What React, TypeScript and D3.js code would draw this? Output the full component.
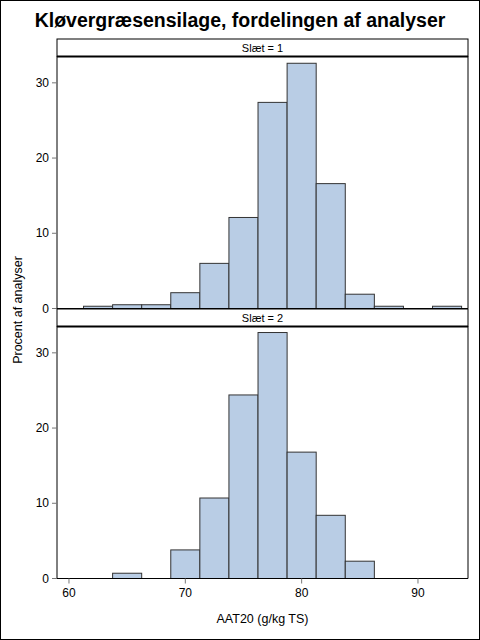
import React from 'react';
import * as d3 from 'd3';

// Histogram bins (midpoints, width 2.5) and percent per panel
const binMids = [62.5, 65, 67.5, 70, 72.5, 75, 77.5, 80, 82.5, 85, 87.5, 90, 92.5];
const binWidth = 2.5;
const slaet1 = [0.3, 0.5, 0.5, 2.1, 6.0, 12.1, 27.4, 32.6, 16.6, 1.9, 0.3, 0, 0.3];
const slaet2 = [0, 0.7, 0, 3.8, 10.7, 24.4, 32.7, 16.8, 8.4, 2.3, 0, 0, 0];
const panelLabels = ['Slæt = 1', 'Slæt = 2'];
const xTicks = [60, 70, 80, 90];
const yTicks = [0, 10, 20, 30];

const W = 480;
const H = 640;
const font = 'Arial, "Liberation Sans", sans-serif';

function Panel({ values, label, top, showX }: { values: number[]; label: string; top: number; showX: boolean }) {
  const left = 57;
  const right = 468;
  const headerH = 17.5;
  const plotTop = top + headerH;
  const plotBottom = plotTop + 252;

  const x = d3.scaleLinear().domain([58.97, 94.3]).range([left, right]);
  const y = d3.scaleLinear().domain([0, 33.5]).range([plotBottom, plotTop]);

  return (
    <g>
      {/* header strip */}
      <rect x={left} y={top} width={right - left} height={headerH} fill="#fff" stroke="#000" strokeWidth={1} />
      <line x1={left} x2={right} y1={plotTop} y2={plotTop} stroke="#000" strokeWidth={2} />
      <text x={(left + right) / 2} y={top + 12.5} textAnchor="middle" fontSize={11} fontFamily={font} fill="#000">
        {label}
      </text>

      {/* bars */}
      {binMids.map((m, i) => (
        <rect
          key={i}
          x={x(m - binWidth / 2)}
          y={y(values[i])}
          width={x(m + binWidth / 2) - x(m - binWidth / 2)}
          height={y(0) - y(values[i])}
          fill="#B9CDE5"
          stroke="#333"
          strokeWidth={1}
        />
      ))}

      {/* frame */}
      <line x1={left} x2={left} y1={plotTop} y2={plotBottom} stroke="#000" />
      <line x1={right} x2={right} y1={plotTop} y2={plotBottom} stroke="#000" />
      <line x1={left} x2={right} y1={plotBottom} y2={plotBottom} stroke="#000" />

      {/* y axis */}
      {yTicks.map((t) => (
        <g key={t}>
          <line x1={left - 5} x2={left} y1={y(t)} y2={y(t)} stroke="#777" />
          <text x={left - 8} y={y(t) + 4} textAnchor="end" fontSize={12} fontFamily={font} fill="#000">
            {t}
          </text>
        </g>
      ))}

      {/* x axis */}
      {showX &&
        xTicks.map((t) => (
          <g key={t}>
            <line x1={x(t)} x2={x(t)} y1={plotBottom} y2={plotBottom + 5} stroke="#777" />
            <text x={x(t)} y={plotBottom + 18} textAnchor="middle" fontSize={12} fontFamily={font} fill="#000">
              {t}
            </text>
          </g>
        ))}
    </g>
  );
}

export default function App() {
  return (
    <svg width={W} height={H} style={{ position: 'absolute', left: 0, top: 0, background: '#fff' }}>
      <rect x={0.5} y={0.5} width={W - 1} height={H - 1} fill="#fff" stroke="#000" />
      <text x={240} y={27} textAnchor="middle" fontSize={19.5} fontWeight="bold" fontFamily={font} fill="#000">
        Kløvergræsensilage, fordelingen af analyser
      </text>
      <Panel values={slaet1} label={panelLabels[0]} top={39} showX={false} />
      <Panel values={slaet2} label={panelLabels[1]} top={309} showX={true} />
      <text
        transform={`translate(22,310) rotate(-90)`}
        textAnchor="middle"
        fontSize={12.5}
        fontFamily={font}
        fill="#000"
      >
        Procent af analyser
      </text>
      <text x={262.5} y={623} textAnchor="middle" fontSize={12.5} fontFamily={font} fill="#000">
        AAT20 (g/kg TS)
      </text>
    </svg>
  );
}
